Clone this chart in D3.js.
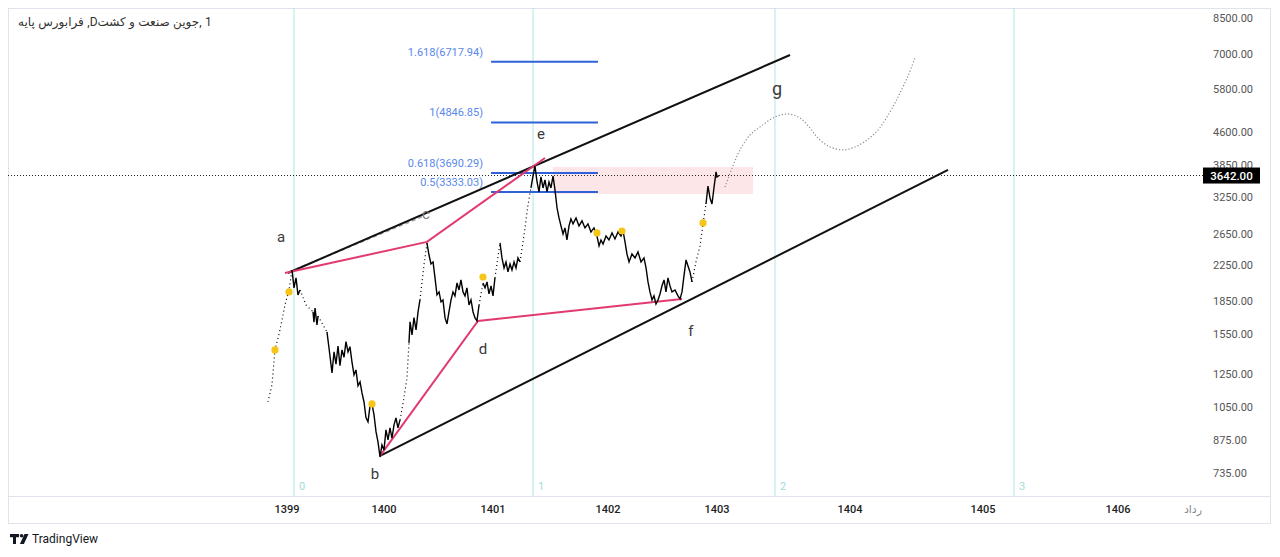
<!DOCTYPE html>
<html>
<head>
<meta charset="utf-8">
<script src="https://cdn.jsdelivr.net/npm/d3@7"></script>
<style>
	body { margin: 0; background: #fff; }
	svg { display: block; font-family: Roboto, 'Noto Sans', 'DejaVu Sans', sans-serif; }
</style>
</head>
<body>
<div id="chart"></div>
<script>
// --- data (time in Jalali years, price in rials) ---
// title pieces in the order they appear on screen, flag = space after
const titleParts = [['پایه', true], ['فرابورس', true], [',D', false], ['کشت', true], ['و', true], ['صنعت', true], ['جوین,', true], ['1', false]];
const yearTicks = [1399, 1400, 1401, 1402, 1403, 1404, 1405, 1406];
const priceTicks = [8500, 7000, 5800, 4600, 3850, 3250, 2650, 2250, 1850, 1550, 1250, 1050, 875, 735];
const lastPrice = 3642;

const seriesYears = [
	1398.804, 1398.845, 1398.876, 1398.928, 1398.979, 1399.021, 1399.052,
	1399.072, 1399.093, 1399.113, 1399.134,
	1399.196, 1399.268,
	1399.278, 1399.289, 1399.309, 1399.320,
	1399.412,
	1399.433, 1399.464, 1399.485, 1399.505, 1399.526, 1399.546, 1399.567, 1399.588, 1399.608, 1399.629,
	1399.649, 1399.670, 1399.691, 1399.711, 1399.732, 1399.753, 1399.773, 1399.794, 1399.814, 1399.835,
	1399.856, 1399.876, 1399.897, 1399.918, 1399.938, 1399.959, 1399.979, 1400.000, 1400.018, 1400.037,
	1400.055, 1400.073, 1400.092, 1400.110, 1400.128, 1400.147,
	1400.183, 1400.211, 1400.229,
	1400.239, 1400.257, 1400.275, 1400.294, 1400.312, 1400.330,
	1400.367, 1400.394,
	1400.413, 1400.431, 1400.450, 1400.468, 1400.486, 1400.505, 1400.523, 1400.541, 1400.560, 1400.578,
	1400.596, 1400.615, 1400.633, 1400.651, 1400.670, 1400.688, 1400.706, 1400.725, 1400.743, 1400.761,
	1400.780, 1400.798, 1400.817, 1400.835, 1400.853, 1400.872,
	1400.908,
	1400.927, 1400.945, 1400.963, 1400.982, 1401.000, 1401.017,
	1401.061,
	1401.078, 1401.096, 1401.113, 1401.130, 1401.148, 1401.165, 1401.183, 1401.200, 1401.217, 1401.235,
	1401.270, 1401.304, 1401.330,
	1401.348, 1401.365, 1401.383, 1401.400, 1401.417, 1401.435, 1401.452, 1401.470, 1401.487, 1401.504,
	1401.522, 1401.539, 1401.557, 1401.574, 1401.591, 1401.609, 1401.626, 1401.643, 1401.661, 1401.678,
	1401.696, 1401.722, 1401.748, 1401.774, 1401.800, 1401.826, 1401.852, 1401.878, 1401.904, 1401.922,
	1401.939, 1401.957, 1401.983, 1402.009, 1402.037, 1402.064, 1402.092, 1402.119, 1402.138, 1402.156,
	1402.174, 1402.193, 1402.220, 1402.248, 1402.275, 1402.303, 1402.330, 1402.349, 1402.367, 1402.385,
	1402.404, 1402.422, 1402.440, 1402.459, 1402.477, 1402.495, 1402.514, 1402.532, 1402.550, 1402.569,
	1402.587, 1402.615, 1402.642, 1402.661, 1402.679, 1402.697, 1402.716, 1402.734, 1402.752, 1402.771,
	1402.807, 1402.844, 1402.872, 1402.899,
	1402.917, 1402.936, 1402.954, 1402.972, 1402.991, 1403.000, 1403.015
];
const seriesPrices = [
	1077, 1181, 1425, 1587, 1815, 1968, 2191,
	1990, 2100, 1916, 1968,
	1815, 1750,
	1655, 1785, 1630, 1710,
	1570,
	1440, 1260, 1410, 1320, 1455, 1310, 1425, 1370, 1490, 1410,
	1450, 1335, 1246, 1280, 1175, 1200, 1131, 1077, 990, 968,
	1055, 1066, 1005, 917, 869, 801, 855, 832, 927, 878,
	937, 887, 952, 989, 937, 978,
	1100, 1226, 1480,
	1657, 1545, 1695, 1587, 1748, 1865,
	2251, 2534,
	2375, 2263, 2288, 2100, 1916, 1947, 1845, 1865, 1693, 1639,
	1748, 1865, 1947, 1906, 2043, 1968, 2077, 1947, 1906, 1990,
	1815, 1865, 1748, 1693, 1666, 1815,
	2043,
	1990, 2055, 1926, 2010, 1906, 2100,
	2534,
	2338, 2215, 2288, 2168, 2263, 2191, 2288, 2215, 2338, 2288,
	2645, 3108, 3406,
	3633, 3834, 3518, 3334, 3614, 3406, 3556, 3334, 3518, 3406,
	3633, 3370, 3058, 2899, 2777, 2659, 2747, 2575, 2777, 2883,
	2807, 2899, 2777, 2853, 2747, 2807, 2688, 2747, 2631, 2494,
	2575, 2520, 2631, 2575, 2674, 2589, 2688, 2631, 2702, 2548,
	2388, 2288, 2388, 2338, 2414, 2288, 2338, 2215, 2055, 1947,
	1865, 1906, 1825, 1865, 1926, 2010, 2077, 1947, 2100, 2010,
	1947, 1968, 1906, 1875, 1947, 2122, 2313, 2239, 2168, 2055,
	2288, 2494, 2807, 3125,
	3442, 3228, 3125, 3406, 3713, 3614, 3642
];
// stretches where the symbol moved in limit steps (drawn dotted)
const haltRanges = [
	[1398.804, 1399.052], [1399.134, 1399.268], [1399.320, 1399.412],
	[1400.147, 1400.229], [1400.330, 1400.394], [1400.872, 1400.908],
	[1401.017, 1401.061], [1401.235, 1401.330], [1402.771, 1402.899]
];

const markerYears = [1398.876, 1399.021, 1399.876, 1400.908, 1401.904, 1402.128, 1402.872];
const markerPrices = [1425, 1947, 1066, 2110, 2674, 2702, 2822];

const fibRatios = ['1.618', '1', '0.618', '0.5'];
const fibPrices = [6717.94, 4846.85, 3690.29, 3333.03];
const fibSpan = [1400.982, 1401.913];
const zoneSpan = [1401.522, 1403.271];
const zonePrices = [3814, 3298];

const timeZones = [1399.072, 1401.348, 1403.436, 1405.230];

const upperChannel = [[1399.010, 2156], [1403.549, 6965]];
const upperGuide = [[1399.021, 2168], [1400.367, 2930]];
const lowerChannel = [[1399.959, 806], [1404.737, 3753]];
const waveTop = [[1398.979, 2156], [1400.394, 2548], [1401.452, 4003]];
const waveBottom = [[1399.959, 806], [1400.862, 1666], [1402.679, 1875]];

const projYears = [1403.060, 1403.113, 1403.173, 1403.248, 1403.323, 1403.436, 1403.534, 1403.624, 1403.699, 1403.752,
	1403.835, 1403.947, 1404.038, 1404.128, 1404.211, 1404.278, 1404.338, 1404.376, 1404.436, 1404.489];
const projPrices = [3424, 3793, 4179, 4530, 4730, 4990, 5072, 4964, 4704, 4481,
	4270, 4179, 4247, 4410, 4653, 4990, 5381, 5678, 6222, 6855];

const waveLabels = ['a', 'b', 'c', 'd', 'e', 'f', 'g'];
const waveLabelYears = [1398.938, 1399.907, 1400.385, 1400.908, 1401.417, 1402.761, 1403.451];
const waveLabelPrices = [2617, 731, 2962, 1433, 4554, 1578, 5802];

// --- layout ---
const width = 1280;
const height = 557;
const plot = { left: 8, top: 8, right: 1203, bottom: 496 };
const frameRight = 1270;
const axisBottom = 523;
const yearTickX = [287, 384, 493, 608, 717, 850, 983, 1118];

const x = d3.scaleLinear().domain(yearTicks).range(yearTickX);
const y = d3.scaleLog().domain([735, 8500]).range([473, 18]);

const svg = d3.select('#chart')
	.append('svg')
	.attr('width', width)
	.attr('height', height);

svg.append('defs')
	.append('clipPath')
	.attr('id', 'plot-clip')
	.append('rect')
	.attr('x', plot.left)
	.attr('y', plot.top)
	.attr('width', plot.right - plot.left)
	.attr('height', plot.bottom - plot.top);

// frame
svg.append('rect')
	.attr('x', plot.left + 0.5)
	.attr('y', plot.top + 0.5)
	.attr('width', frameRight - plot.left)
	.attr('height', axisBottom - plot.top)
	.attr('fill', 'none')
	.attr('stroke', '#e0e3eb');

svg.append('line')
	.attr('x1', plot.left).attr('x2', frameRight)
	.attr('y1', plot.bottom + 0.5).attr('y2', plot.bottom + 0.5)
	.attr('stroke', '#e0e3eb');

const g = svg.append('g').attr('clip-path', 'url(#plot-clip)');
const line = d3.line().x((d) => x(d[0])).y((d) => y(d[1]));

// fibonacci time zones
g.selectAll('.tz')
	.data(timeZones)
	.enter()
	.append('line')
	.attr('x1', (d) => x(d)).attr('x2', (d) => x(d))
	.attr('y1', plot.top).attr('y2', plot.bottom)
	.attr('stroke', '#b2e4e6')
	.attr('stroke-width', 1);

g.selectAll('.tz-label')
	.data(timeZones)
	.enter()
	.append('text')
	.attr('x', (d) => x(d) + 5)
	.attr('y', plot.bottom - 6)
	.attr('fill', '#9fdcdc')
	.attr('font-size', 11)
	.text((d, i) => i);

// target zone
g.append('rect')
	.attr('x', x(zoneSpan[0]))
	.attr('width', x(zoneSpan[1]) - x(zoneSpan[0]))
	.attr('y', y(zonePrices[0]))
	.attr('height', y(zonePrices[1]) - y(zonePrices[0]))
	.attr('fill', '#fde6e7');

// fib extension levels
g.selectAll('.fib')
	.data(fibPrices)
	.enter()
	.append('line')
	.attr('x1', x(fibSpan[0])).attr('x2', x(fibSpan[1]))
	.attr('y1', (d) => y(d)).attr('y2', (d) => y(d))
	.attr('stroke', '#2f62d8')
	.attr('stroke-width', 2);

g.selectAll('.fib-label')
	.data(fibPrices)
	.enter()
	.append('text')
	.attr('x', x(fibSpan[0]) - 8)
	.attr('y', (d) => y(d) - 6)
	.attr('text-anchor', 'end')
	.attr('fill', '#5a88ec')
	.attr('font-size', 11)
	.text((d, i) => `${fibRatios[i]}(${d.toFixed(2)})`);

// last price line
g.append('line')
	.attr('x1', plot.left).attr('x2', plot.right)
	.attr('y1', y(lastPrice)).attr('y2', y(lastPrice))
	.attr('stroke', '#222')
	.attr('stroke-dasharray', '1,2');

// channel and wave lines
g.append('path')
	.attr('d', line(upperGuide))
	.attr('fill', 'none')
	.attr('stroke', '#a8a8a8')
	.attr('stroke-width', 1.6)
	.attr('stroke-dasharray', '4,3');

[upperChannel, lowerChannel].forEach((pts) => {
	g.append('path')
		.attr('d', line(pts))
		.attr('fill', 'none')
		.attr('stroke', '#111')
		.attr('stroke-width', 2);
});

[waveTop, waveBottom].forEach((pts) => {
	g.append('path')
		.attr('d', line(pts))
		.attr('fill', 'none')
		.attr('stroke', '#e23a6e')
		.attr('stroke-width', 2);
});

// price series, solid where traded, dotted through limit runs
const pts = seriesYears.map((t, i) => [t, seriesPrices[i]]);
const halted = (a, b) => haltRanges.some(([s, e]) => a >= s - 1e-6 && b <= e + 1e-6);
let runs = [];
for (let i = 0; i < pts.length - 1; i++) {
	let dotted = halted(pts[i][0], pts[i + 1][0]);
	let last = runs[runs.length - 1];
	if (last && last.dotted === dotted) {
		last.pts.push(pts[i + 1]);
	} else {
		runs.push({ dotted, pts: [pts[i], pts[i + 1]] });
	}
}

g.selectAll('.price')
	.data(runs)
	.enter()
	.append('path')
	.attr('d', (d) => line(d.pts))
	.attr('fill', 'none')
	.attr('stroke', '#000')
	.attr('stroke-width', (d) => d.dotted ? 1.2 : 1.4)
	.attr('stroke-dasharray', (d) => d.dotted ? '1,3' : null);

// projection
g.append('path')
	.attr('d', d3.line().curve(d3.curveCatmullRom)
		.x((d) => x(d[0])).y((d) => y(d[1]))(projYears.map((t, i) => [t, projPrices[i]])))
	.attr('fill', 'none')
	.attr('stroke', '#8a8a8a')
	.attr('stroke-width', 1.2)
	.attr('stroke-dasharray', '1.2,2');

// markers
g.selectAll('.marker')
	.data(markerYears)
	.enter()
	.append('circle')
	.attr('cx', (d) => x(d))
	.attr('cy', (d, i) => y(markerPrices[i]))
	.attr('r', 3.6)
	.attr('fill', '#f5c518');

// wave labels
g.selectAll('.wave-label')
	.data(waveLabels)
	.enter()
	.append('text')
	.attr('x', (d, i) => x(waveLabelYears[i]))
	.attr('y', (d, i) => y(waveLabelPrices[i]))
	.attr('dy', '0.35em')
	.attr('text-anchor', 'middle')
	.attr('fill', (d) => d === 'c' ? '#7a7a7a' : '#3a3a3a')
	.attr('font-size', (d) => d === 'g' ? 18 : 15)
	.text((d) => d);

// price axis
svg.selectAll('.price-tick')
	.data(priceTicks)
	.enter()
	.append('text')
	.attr('x', 1213)
	.attr('y', (d) => y(d))
	.attr('dy', '0.35em')
	.attr('fill', '#555')
	.attr('font-size', 11)
	.text((d) => d.toFixed(2));

svg.append('rect')
	.attr('x', plot.right)
	.attr('y', y(lastPrice) - 8)
	.attr('width', 57)
	.attr('height', 16)
	.attr('fill', '#000');

svg.append('text')
	.attr('x', plot.right + 28.5)
	.attr('y', y(lastPrice))
	.attr('dy', '0.35em')
	.attr('text-anchor', 'middle')
	.attr('fill', '#fff')
	.attr('font-size', 11.5)
	.attr('font-weight', 500)
	.text(lastPrice.toFixed(2));

// time axis
svg.selectAll('.year-tick')
	.data(yearTicks)
	.enter()
	.append('text')
	.attr('x', (d) => x(d))
	.attr('y', 509)
	.attr('dy', '0.35em')
	.attr('text-anchor', 'middle')
	.attr('fill', '#222')
	.attr('font-size', 11)
	.attr('font-weight', 500)
	.text((d) => d);

svg.append('text')
	.attr('x', 1193)
	.attr('y', 509)
	.attr('dy', '0.35em')
	.attr('text-anchor', 'middle')
	.attr('fill', '#8a8a8a')
	.attr('font-size', 11)
	.text('رداد');

// title, laid out piece by piece so the on-screen order holds
const titleG = svg.append('g').attr('fill', '#333').attr('font-size', 12);
const spaceW = 3.4;
let cursor = 18;
titleParts.forEach(([word, gap]) => {
	let t = titleG.append('text')
		.attr('x', cursor)
		.attr('y', 26)
		.text(word);
	cursor += t.node().getComputedTextLength() + (gap ? spaceW : 0);
});

// footer logo
const logo = svg.append('g').attr('fill', '#131722');
logo.append('path').attr('d', 'M10 534 h9 v3.2 h-3 v6.8 h-3 v-6.8 h-3 z');
logo.append('circle').attr('cx', 21.6).attr('cy', 535.8).attr('r', 1.8);
logo.append('path').attr('d', 'M24.5 534 h4 l-4.6 10 h-4 z');

svg.append('text')
	.attr('x', 32)
	.attr('y', 543)
	.attr('fill', '#131722')
	.attr('font-size', 12)
	.text('TradingView');
</script>
</body>
</html>
